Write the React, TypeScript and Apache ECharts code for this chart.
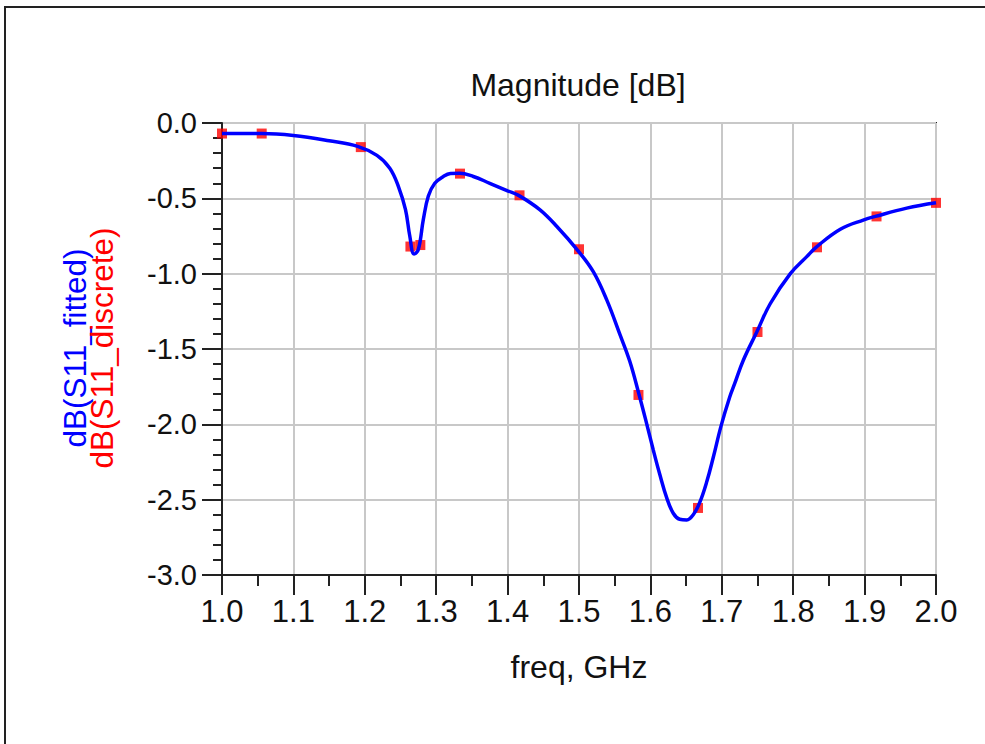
import React, { useEffect, useRef } from "react";
import * as echarts from "echarts";

const fitFreq = [
  1.0, 1.056, 1.1, 1.15, 1.19, 1.217, 1.235, 1.247, 1.257, 1.263, 1.269, 1.275, 1.282,
  1.289, 1.298, 1.31, 1.32, 1.333, 1.352, 1.375, 1.4, 1.416, 1.445, 1.469, 1.499, 1.52,
  1.539, 1.557, 1.571, 1.584, 1.595, 1.604, 1.613, 1.623, 1.632, 1.641, 1.651, 1.66,
  1.669, 1.679, 1.688, 1.699, 1.711, 1.718, 1.73, 1.749, 1.768, 1.796, 1.819, 1.832,
  1.866, 1.899, 1.915, 1.959, 2.0,
];
const fitDb = [
  -0.07, -0.07, -0.083, -0.118, -0.155, -0.215, -0.3, -0.42, -0.575, -0.75, -0.87, -0.84,
  -0.64, -0.485, -0.4, -0.355, -0.335, -0.333, -0.355, -0.4, -0.45, -0.482, -0.575,
  -0.687, -0.85, -0.987, -1.176, -1.4, -1.58, -1.8, -2.0, -2.17, -2.33, -2.49, -2.59,
  -2.63, -2.635, -2.6, -2.52, -2.38, -2.22, -2.01, -1.82, -1.73, -1.576, -1.387, -1.198,
  -1.0, -0.887, -0.825, -0.705, -0.643, -0.62, -0.565, -0.53,
];

const discFreq = [
  1.0, 1.0556, 1.1944, 1.2639, 1.2778, 1.3333, 1.4167, 1.5, 1.5833, 1.6667, 1.75, 1.8333,
  1.9167, 2.0,
];
const discDb = [
  -0.07, -0.07, -0.16, -0.82, -0.81, -0.336, -0.48, -0.838, -1.805, -2.555, -1.387, -0.825,
  -0.62, -0.53,
];

const titleText = "Magnitude [dB]";
const xName = "freq, GHz";
const yNameFitted = "dB(S11_fitted)";
const yNameDiscrete = "dB(S11_discrete)";

const FONT = "'Liberation Sans', Arial, sans-serif";

export default function App() {
  const ref = useRef<HTMLDivElement>(null);
  useEffect(() => {
    if (!ref.current) return;
    const chart = echarts.init(ref.current, null, { renderer: "svg" });
    const fitData = fitFreq.map((f, i) => [f, fitDb[i]]);
    const discData = discFreq.map((f, i) => [f, discDb[i]]);
    chart.setOption({
      animation: false,
      backgroundColor: "#ffffff",
      grid: {
        left: 222,
        right: 49,
        top: 123,
        bottom: 169,
        show: true,
        borderColor: "#222",
        borderWidth: 2,
        backgroundColor: "transparent",
      },
      xAxis: {
        type: "value",
        min: 1,
        max: 2,
        interval: 0.1,
        axisLine: { show: true, onZero: false, lineStyle: { color: "#222", width: 2 } },
        axisTick: { show: true, length: 20, lineStyle: { color: "#222", width: 2 } },
        minorTick: { show: true, splitNumber: 2, length: 11, lineStyle: { color: "#222", width: 2 } },
        splitLine: { show: true, lineStyle: { color: "#c8c8c8", width: 2 } },
        axisLabel: {
          margin: 21,
          fontSize: 31,
          fontFamily: FONT,
          color: "#111",
          formatter: (v: number) => v.toFixed(1),
        },
      },
      yAxis: {
        type: "value",
        min: -3,
        max: 0,
        interval: 0.5,
        axisLine: { show: true, onZero: false, lineStyle: { color: "#222", width: 2 } },
        axisTick: { show: true, length: 20, lineStyle: { color: "#222", width: 2 } },
        minorTick: { show: true, splitNumber: 5, length: 9, lineStyle: { color: "#222", width: 2 } },
        splitLine: { show: true, lineStyle: { color: "#c8c8c8", width: 2 } },
        axisLabel: {
          margin: 25,
          fontSize: 29,
          fontFamily: FONT,
          color: "#111",
          formatter: (v: number) => v.toFixed(1),
        },
      },
      series: [
        {
          type: "scatter",
          data: discData,
          symbol: "rect",
          symbolSize: 10,
          itemStyle: { color: "#ff0000" },
          z: 2,
        },
        {
          type: "line",
          data: fitData,
          smooth: 0.4,
          showSymbol: false,
          lineStyle: { color: "#0000ff", width: 3.5 },
          z: 3,
        },
      ],
      graphic: [
        {
          type: "rect",
          shape: { x: 5, y: 7, width: 1200, height: 1000 },
          style: { fill: "none", stroke: "#222", lineWidth: 2 },
          silent: true,
        },
        {
          type: "text",
          x: 578,
          y: 85,
          style: {
            text: titleText,
            font: `32px ${FONT}`,
            fill: "#111",
            textAlign: "center",
            textVerticalAlign: "middle",
          },
        },
        {
          type: "text",
          x: 579,
          y: 667,
          style: {
            text: xName,
            font: `32px ${FONT}`,
            fill: "#111",
            textAlign: "center",
            textVerticalAlign: "middle",
          },
        },
        {
          type: "text",
          x: 75,
          y: 348,
          rotation: Math.PI / 2,
          style: {
            text: yNameFitted,
            font: `31.5px ${FONT}`,
            fill: "#0000ff",
            textAlign: "center",
            textVerticalAlign: "middle",
          },
        },
        {
          type: "text",
          x: 102,
          y: 348,
          rotation: Math.PI / 2,
          style: {
            text: yNameDiscrete,
            font: `31.5px ${FONT}`,
            fill: "#ff0000",
            textAlign: "center",
            textVerticalAlign: "middle",
          },
        },
      ],
    });
    return () => chart.dispose();
  }, []);
  return (
    <div
      ref={ref}
      style={{ position: "fixed", left: 0, top: 0, width: 985, height: 744, background: "#fff" }}
    />
  );
}
